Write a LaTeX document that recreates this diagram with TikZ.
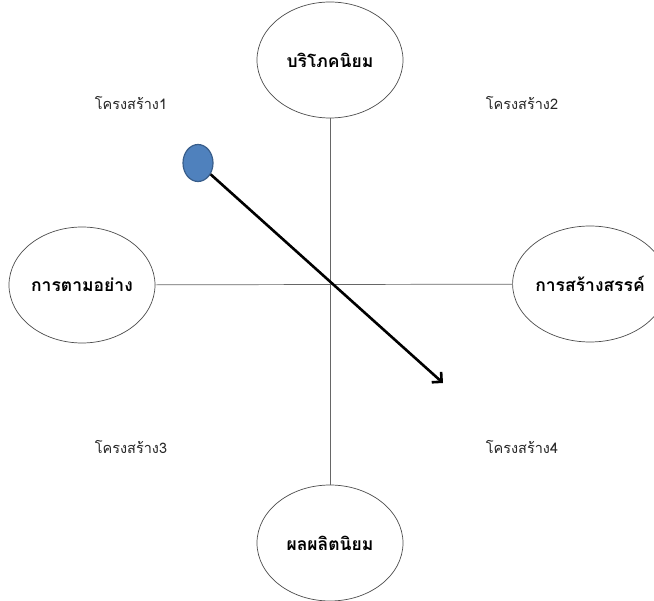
\documentclass[tikz,border=0pt]{standalone}
\usepackage{fontspec}
\newfontfamily\thaifont[Script=Thai]{Loma}
\usetikzlibrary{
		positioning,
		arrows.meta,
		shapes.geometric
	}
\tikzset{
		>=stealth
	}
\definecolor{dotfill}{HTML}{4F81BD}
\definecolor{dotline}{HTML}{385D8A}

\begin{document}
\begin{tikzpicture}[x=1pt, y=-1pt,
				pole/.style={ellipse, draw=black!70, line width=0.7pt, minimum width=146pt, minimum height=116pt, inner sep=0pt,
					font=\thaifont\bfseries\fontsize{17.5}{20}\selectfont},
				zone/.style={font=\thaifont\fontsize{14.5}{17}\selectfont, text=black!85},
				axis/.style={draw=black!60, line width=0.7pt},
				dot/.style={ellipse, fill=dotfill, draw=dotline, line width=1.2pt, minimum width=30pt, minimum height=37pt, inner sep=0pt}]
	\useasboundingbox (0,0) rectangle (654,601);
	\clip (0,0) rectangle (654,601);
	% the four poles
	\node[pole] (consume) at (330,60) {บริโภคนิยม};
	\node[pole] (imitate) at (82,285) {การตามอย่าง};
	\node[pole] (create) at (590,284) {การสร้างสรรค์};
	\node[pole] (produce) at (330,543) {ผลผลิตนิยม};
	% axes
	\draw[axis] (imitate) -- (create);
	\draw[axis] (consume) -- (produce);
	% quadrant names
	\node[zone] (q1) at (131,103) {โครงสร้าง1};
	\node[zone] (q2) at (522,103) {โครงสร้าง2};
	\node[zone] (q3) at (131,447) {โครงสร้าง3};
	\node[zone] (q4) at (522,447) {โครงสร้าง4};
	% shift
	\node[dot] (start) at (198,163) {};
	\coordinate (end) at (443,383);
	\draw[line width=2.6pt, -{Straight Barb[length=7pt, width=14pt]}] (start) -- (end);
\end{tikzpicture}
\end{document}
